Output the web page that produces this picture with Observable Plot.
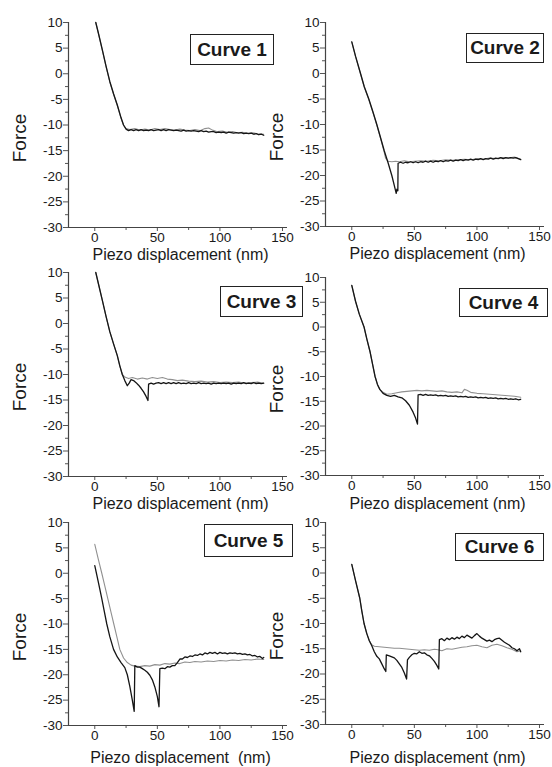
<!DOCTYPE html>
<html>
<head>
<meta charset="utf-8">
<script src="https://cdn.jsdelivr.net/npm/d3@7"></script>
<script src="https://cdn.jsdelivr.net/npm/@observablehq/plot@0.6"></script>
<style>
  html, body { margin: 0; padding: 0; background: #fff; }
  #wrap { position: relative; width: 552px; height: 767px; background: #fff; font-family: "Liberation Sans", Arial, Helvetica, sans-serif; color: #1a1a1a; overflow: hidden; }
  .pnl { position: absolute; }
  .aline { position: absolute; background: #444; }
  .ylab { position: absolute; font-size: 19px; transform: translate(-50%, -50%) rotate(-90deg); white-space: nowrap; }
  .xlab { position: absolute; font-size: 16px; transform: translate(-50%, -50%); white-space: pre; }
  .box { position: absolute; border: 1.3px solid #222; font-weight: bold; font-size: 19px; display: flex; align-items: center; justify-content: center; background: #fff; box-sizing: border-box; white-space: nowrap; }
</style>
</head>
<body>
<div id="wrap"></div>
<script>
// ---- data ----
const curveNames = ["Curve 1", "Curve 2", "Curve 3", "Curve 4", "Curve 5", "Curve 6"];
const xLabels = ["Piezo displacement (nm)", "Piezo displacement (nm)", "Piezo displacement (nm)", "Piezo displacement (nm)", "Piezo displacement  (nm)", "Piezo displacement (nm)"];
const yLabel = "Force";
const xTicks = [0, 50, 100, 150];
const xMinorTicks = [25, 75, 125];
const yTicks = [-30, -25, -20, -15, -10, -5, 0, 5, 10];
const yMinorTicks = [-27.5, -22.5, -17.5, -12.5, -7.5, -2.5, 2.5, 7.5];

// Curve 1
const c1Gray = [[0.8,10],[3,7.8],[6,4.6],[9,1.4],[12,-1.6],[15,-4],[18,-6.2],[21,-8.7],[23,-10.1],[25,-10.7],[28,-10.9],[32,-10.7],[36,-11],[40,-10.8],[44,-11],[48,-10.7],[52,-10.9],[56,-10.7],[60,-10.9],[64,-11],[68,-10.8],[72,-11],[76,-11.1],[80,-10.9],[84,-11.1],[88,-10.7],[91,-10.6],[94,-11],[98,-11.3],[102,-11.2],[106,-11.4],[110,-11.3],[114,-11.5],[118,-11.4],[122,-11.6],[126,-11.5],[130,-11.7],[135,-11.8]];
const c1Black = [[0.8,10],[3,7.8],[6,4.7],[9,1.5],[12,-1.5],[15,-3.9],[18,-6.1],[21,-8.6],[23,-10],[25,-10.8],[27,-11.1],[29,-10.9],[31,-11.1],[33,-10.9],[35,-11.1],[37,-10.9],[39,-11.1],[41,-11],[43,-11.1],[45,-10.9],[47,-11.1],[49,-11],[51,-10.9],[53,-11.1],[55,-10.9],[57,-11.1],[59,-10.9],[61,-11],[63,-11.1],[65,-11],[67,-11.1],[69,-11.2],[71,-11],[73,-11.2],[75,-11.1],[77,-11.2],[79,-11.1],[81,-11.2],[83,-11.3],[85,-11.1],[87,-11.3],[89,-11.2],[91,-11.4],[93,-11.3],[95,-11.3],[97,-11.5],[99,-11.4],[101,-11.5],[103,-11.4],[105,-11.6],[107,-11.4],[109,-11.5],[111,-11.6],[113,-11.5],[115,-11.6],[117,-11.5],[119,-11.7],[121,-11.6],[123,-11.7],[125,-11.6],[127,-11.8],[129,-11.7],[131,-11.9],[133,-11.8],[135,-12]];

// Curve 2
const c2Gray = [[0,6.2],[3,3.3],[7,-0.1],[10,-2.7],[13.6,-5.1],[17,-7.7],[20,-10.1],[23,-12.7],[25.5,-15],[27,-16.6],[29,-17.2],[32,-17.3],[35,-17.2],[38,-17.3],[42,-17.1],[46,-17.3],[50,-17.2],[55,-17.1],[60,-17.2],[65,-17],[70,-17.1],[75,-16.9],[80,-17],[85,-16.9],[90,-16.8],[95,-16.9],[100,-16.7],[105,-16.8],[110,-16.6],[115,-16.7],[120,-16.5],[125,-16.6],[130,-16.4],[135,-16.8]];
const c2Black = [[0,6.2],[3,3.4],[7,0],[10,-2.6],[13.6,-5],[17,-7.6],[20,-10],[23,-12.6],[26,-15.2],[29,-17.5],[32,-20],[34,-22],[35.5,-23.5],[36,-22.7],[36.8,-23],[37,-17.6],[39,-17.4],[41,-17.6],[43,-17.4],[45,-17.5],[47,-17.3],[49,-17.5],[51,-17.3],[53,-17.5],[55,-17.3],[57,-17.4],[59,-17.2],[61,-17.4],[63,-17.2],[65,-17.4],[67,-17.2],[69,-17.3],[71,-17.1],[73,-17.3],[75,-17.1],[77,-17.2],[79,-17],[81,-17.2],[83,-17],[85,-17.1],[87,-16.9],[89,-17.1],[91,-16.9],[93,-17],[95,-16.8],[97,-17],[99,-16.8],[101,-16.9],[103,-16.7],[105,-16.9],[107,-16.7],[109,-16.8],[111,-16.6],[113,-16.8],[115,-16.6],[117,-16.7],[119,-16.5],[121,-16.7],[123,-16.5],[125,-16.6],[127,-16.5],[129,-16.6],[131,-16.5],[133,-16.7],[135,-16.9]];

// Curve 3
const c3Gray = [[0.8,10],[3,7.7],[6,4.6],[9,1.4],[12,-1.6],[15,-4],[18,-6.3],[20,-8.3],[22,-10],[24,-10.5],[27,-10.8],[30,-10.6],[34,-10.9],[38,-10.7],[42,-10.9],[46,-10.6],[50,-10.8],[54,-10.6],[58,-10.9],[62,-11],[66,-11.2],[70,-11.1],[75,-11.3],[80,-11.4],[85,-11.3],[90,-11.5],[95,-11.4],[100,-11.6],[105,-11.5],[110,-11.6],[115,-11.5],[120,-11.7],[125,-11.6],[130,-11.5],[135,-11.7]];
const c3Black = [[0.8,10],[3,7.7],[6,4.6],[9,1.4],[12,-1.6],[15,-4],[18,-6.3],[20,-8.3],[22,-10],[24,-11.2],[26,-12.2],[27.5,-11.7],[29,-11],[31,-11.2],[33,-11.6],[35,-12.1],[37,-12.7],[39,-13.4],[41,-14.3],[42.5,-15.1],[43,-11.9],[45,-11.7],[47,-11.9],[49,-11.7],[51,-11.6],[53,-11.8],[55,-11.6],[57,-11.8],[59,-11.6],[61,-11.8],[63,-11.6],[65,-11.8],[67,-11.6],[69,-11.8],[71,-11.7],[73,-11.8],[75,-11.6],[77,-11.8],[79,-11.7],[81,-11.8],[83,-11.6],[85,-11.8],[87,-11.7],[89,-11.8],[91,-11.7],[93,-11.9],[95,-11.7],[97,-11.8],[99,-11.7],[101,-11.8],[103,-11.7],[105,-11.8],[107,-11.7],[109,-11.9],[111,-11.7],[113,-11.8],[115,-11.7],[117,-11.8],[119,-11.6],[121,-11.8],[123,-11.7],[125,-11.8],[127,-11.6],[129,-11.8],[131,-11.7],[133,-11.8],[135,-11.7]];

// Curve 4
const c4Gray = [[0,8.4],[3,5.2],[6,2.6],[9.8,0],[12,-2.4],[14.6,-5],[16.6,-7.5],[18.6,-10],[20.5,-11.6],[22.4,-12.6],[25,-13.2],[28,-13.6],[32,-13.5],[36,-13.3],[40,-13.1],[44,-13],[48,-12.9],[52,-12.8],[56,-12.9],[60,-12.8],[64,-12.9],[68,-13],[72,-12.9],[76,-13.1],[80,-13.2],[84,-13.1],[88,-13.3],[90,-12.6],[92,-12.8],[95,-13.2],[100,-13.4],[105,-13.5],[110,-13.6],[115,-13.7],[120,-13.8],[125,-13.9],[130,-14],[135,-14.2]];
const c4Black = [[0,8.4],[3,5.2],[6,2.6],[9.8,0],[12,-2.4],[14.6,-5],[16.6,-7.5],[18.6,-10],[20.5,-11.6],[22.4,-12.6],[25,-13.4],[28,-13.8],[31,-14],[34,-13.8],[37,-14.1],[40,-14.3],[43,-14.9],[46,-15.8],[49,-17.2],[51,-18.4],[52.5,-19.6],[53,-13.7],[55,-13.6],[57,-13.8],[59,-13.6],[61,-13.8],[63,-13.7],[65,-13.8],[67,-13.7],[69,-13.9],[71,-13.8],[73,-13.9],[75,-13.8],[77,-14],[79,-13.9],[81,-14],[83,-13.9],[85,-14.1],[87,-14],[89,-14.1],[91,-14],[93,-14.2],[95,-14.1],[97,-14.2],[99,-14.1],[101,-14.3],[103,-14.2],[105,-14.3],[107,-14.2],[109,-14.4],[111,-14.3],[113,-14.4],[115,-14.3],[117,-14.5],[119,-14.4],[121,-14.5],[123,-14.4],[125,-14.6],[127,-14.5],[129,-14.6],[131,-14.5],[133,-14.7],[135,-14.6]];

// Curve 5
const c5Gray = [[0,5.7],[2.8,2.8],[5.6,0],[8,-2.5],[10.4,-5],[12.8,-7.5],[15.2,-10],[17.6,-12.5],[20,-15],[23,-16.7],[26,-17.6],[29,-18.1],[32,-18.3],[36,-18.4],[40,-18.2],[44,-18.3],[48,-18],[52,-18.1],[56,-17.8],[60,-17.9],[64,-17.7],[68,-17.8],[72,-17.5],[76,-17.6],[80,-17.4],[85,-17.5],[90,-17.3],[95,-17.4],[100,-17.2],[105,-17.3],[110,-17.1],[115,-17.2],[120,-17],[125,-17.1],[130,-16.9],[135,-17]];
const c5Black = [[0,1.5],[2.8,-1.7],[5.6,-5],[7.6,-7.5],[9.6,-10],[12,-12.5],[15,-15],[18,-16.5],[21,-17.6],[24,-18.6],[26,-20],[28,-22.3],[30,-25],[31.5,-27.2],[32,-18.2],[34,-18.5],[36,-18.5],[38,-18.8],[40,-19.1],[42,-19.5],[44,-20.1],[46,-21],[48,-22.4],[50,-24.3],[51.3,-26.3],[52,-18.8],[54,-18.7],[56,-18.8],[58,-18.4],[60,-18.5],[62,-18.2],[64,-18.2],[66,-17.6],[68,-16.9],[70,-16.9],[72,-16.5],[74,-16.6],[76,-16.3],[78,-16.4],[80,-16.1],[82,-16.2],[84,-15.9],[86,-16.1],[88,-15.7],[90,-15.9],[92,-15.6],[94,-15.8],[96,-15.6],[98,-15.9],[100,-15.6],[102,-15.8],[104,-15.7],[106,-15.9],[108,-15.7],[110,-15.8],[112,-15.7],[114,-15.9],[116,-15.8],[118,-16],[120,-15.9],[122,-16.1],[124,-16],[126,-16.3],[128,-16.2],[130,-16.5],[132,-16.4],[134,-16.8],[135,-16.6]];

// Curve 6
const c6Gray = [[0,1.7],[3,-1.5],[6.4,-5],[8,-7.5],[9.8,-10],[12,-12],[14,-13.4],[16,-14.2],[18,-14.5],[22,-14.6],[26,-14.7],[30,-14.8],[34,-14.9],[38,-14.9],[42,-15],[46,-15.1],[50,-15.2],[54,-15.3],[58,-15.2],[62,-15.3],[66,-15.1],[69,-15.2],[72,-15.4],[76,-15],[80,-15.1],[84,-14.9],[88,-14.7],[92,-14.6],[96,-14.4],[100,-14.3],[104,-14.6],[108,-14.8],[112,-14.3],[116,-14.1],[120,-14.4],[124,-14.8],[128,-15.1],[132,-15.6],[135,-15.4]];
const c6Black = [[0,1.7],[3,-1.5],[6.4,-5],[8,-7.5],[9.8,-10],[12,-12],[14,-13.4],[16,-14.4],[18,-15.6],[20,-16.5],[22,-17],[24,-18],[26,-19],[27.2,-19.5],[27.6,-16.2],[30,-16.4],[32,-16.6],[34,-16.8],[36,-17.3],[38,-18],[40,-18.7],[42,-19.8],[43.8,-21],[44.5,-17.2],[46,-16.7],[48,-16.2],[50,-15.9],[52,-16],[54,-15.6],[56,-15.9],[58,-15.8],[60,-16.2],[62,-16.4],[64,-16.9],[66,-17.5],[68,-18.3],[69.5,-19],[70,-13.2],[72,-13],[74,-13.4],[76,-12.9],[78,-13.2],[80,-12.8],[82,-13.1],[84,-12.7],[86,-13],[88,-12.5],[90,-12.8],[92,-12.3],[94,-12.6],[96,-12.9],[98,-12.4],[100,-12],[102,-12.5],[104,-12.9],[106,-13.2],[108,-13.5],[110,-13.3],[112,-13.6],[114,-13.2],[116,-13],[118,-12.9],[120,-13.3],[122,-13.7],[124,-14],[126,-14.3],[128,-14.8],[130,-15],[132,-15.4],[134,-15],[135,-15.6]];

const grayTraces = [c1Gray, c2Gray, c3Gray, c4Gray, c5Gray, c6Gray];
const blackTraces = [c1Black, c2Black, c3Black, c4Black, c5Black, c6Black];

// ---- layout (pixels) ----
const xDomain = [-21, 154];
const yDomain = [-30, 10];
const frameW = 219;
const frames = [
  {left: 68, top: 22, h: 205, lab: 28, box: [190, 34, 84, 31]},
  {left: 325, top: 22, h: 204, lab: 28, box: [466, 33, 78, 30]},
  {left: 68, top: 272, h: 204, lab: 28, box: [220, 286, 83, 31]},
  {left: 325, top: 277, h: 198, lab: 29, box: [459, 288, 89, 29]},
  {left: 68, top: 522, h: 203, lab: 33, box: [204, 524, 89, 33]},
  {left: 325, top: 522, h: 202, lab: 34, box: [455, 533, 89, 28]}
];

const wrap = document.getElementById("wrap");
const mL = 68, mR = 8, mT = 10, mB = 30;
const font = "Liberation Sans, Arial, Helvetica, sans-serif";
const fmt = d => String(d);

function addLine(x, y, w, h) {
  const d = document.createElement("div");
  d.className = "aline";
  d.style.left = x + "px"; d.style.top = y + "px";
  d.style.width = w + "px"; d.style.height = h + "px";
  wrap.appendChild(d);
}

frames.forEach((f, i) => {
  const svg = Plot.plot({
    width: mL + frameW + mR,
    height: mT + f.h + mB,
    marginLeft: mL, marginRight: mR, marginTop: mT, marginBottom: mB,
    x: {domain: xDomain},
    y: {domain: yDomain},
    style: {background: "transparent", fontFamily: font, fontSize: "13.5px", color: "#1a1a1a", overflow: "visible"},
    marks: [
      Plot.ruleX([xDomain[0]], {stroke: "#444", strokeWidth: 1.2}),
      Plot.ruleY([yDomain[0]], {stroke: "#444", strokeWidth: 1.2}),
      Plot.axisY(yTicks, {tickSize: 5, tickPadding: 1, label: null, stroke: "#555", fill: "#1a1a1a", fontSize: 13.5, tickFormat: fmt}),
      Plot.axisY(yMinorTicks, {tickSize: 3, label: null, stroke: "#555", tickFormat: () => ""}),
      Plot.axisX(xTicks, {tickSize: 4, tickPadding: 1, label: null, stroke: "#555", fill: "#1a1a1a", fontSize: 13.5, tickFormat: fmt}),
      Plot.axisX(xMinorTicks, {tickSize: 3, label: null, stroke: "#555", tickFormat: () => ""}),
      Plot.line(grayTraces[i], {x: d => d[0], y: d => d[1], stroke: "#909090", strokeWidth: 1.1, strokeLinejoin: "round"}),
      Plot.line(blackTraces[i], {x: d => d[0], y: d => d[1], stroke: "#151515", strokeWidth: 1.3, strokeLinejoin: "round"})
    ]
  });
  const div = document.createElement("div");
  div.className = "pnl";
  div.style.left = (f.left - mL) + "px";
  div.style.top = (f.top - mT) + "px";
  div.style.width = (mL + frameW + mR) + "px";
  div.appendChild(svg);
  wrap.appendChild(div);

  // axis lines along the left and bottom edges of the frame
  addLine(f.left, f.top, 1, f.h + 1);
  addLine(f.left, f.top + f.h, frameW, 1);

  const yl = document.createElement("div");
  yl.className = "ylab";
  yl.textContent = yLabel;
  yl.style.left = (f.left - 48) + "px";
  yl.style.top = (f.top + f.h / 2 + 13) + "px";
  wrap.appendChild(yl);

  const xl = document.createElement("div");
  xl.className = "xlab";
  xl.textContent = xLabels[i];
  xl.style.left = (f.left + frameW / 2 + 3) + "px";
  xl.style.top = (f.top + f.h + f.lab) + "px";
  wrap.appendChild(xl);
});

frames.forEach((f, i) => {
  const b = document.createElement("div");
  b.className = "box";
  b.textContent = curveNames[i];
  b.style.left = f.box[0] + "px";
  b.style.top = f.box[1] + "px";
  b.style.width = f.box[2] + "px";
  b.style.height = f.box[3] + "px";
  wrap.appendChild(b);
});
</script>
</body>
</html>
